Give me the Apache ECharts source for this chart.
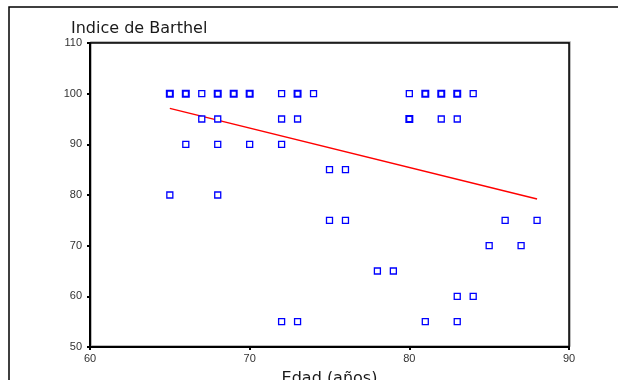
<!DOCTYPE html>
<html>
<head>
<meta charset="utf-8">
<script src="https://cdn.jsdelivr.net/npm/echarts@6/dist/echarts.min.js"></script>
<style>html,body{margin:0;padding:0;background:#fff}#c{width:618px;height:380px}</style>
</head>
<body>
<div id="c"></div>
<script>
// Edad (años) and Indice de Barthel for each plotted point; count = number of overlapping cases (bolder marker)
var ages   = [65,66,67,68,69,70,72,73,74,80,81,82,83,84, 67,68,72,73,80,82,83, 66,68,70,72, 75,76, 65,68, 75,76,86,88, 85,87, 78,79, 83,84, 72,73,81,83];
var scores = [100,100,100,100,100,100,100,100,100,100,100,100,100,100, 95,95,95,95,95,95,95, 90,90,90,90, 85,85, 80,80, 75,75,75,75, 70,70, 65,65, 60,60, 55,55,55,55];
var counts = [2,2,1,2,2,2,1,2,1,1,2,2,2,1, 1,1,1,1,2,1,1, 1,1,1,1, 1,1, 1,1, 1,1,1,1, 1,1, 1,1, 1,1, 1,1,1,1];
// Fitted regression line endpoints
var fitAges   = [65, 88];
var fitScores = [97.1, 79.2];
var xTicks = [60, 70, 80, 90];
var yTicks = [50, 60, 70, 80, 90, 100, 110];

var pts = ages.map(function(a, i){
  return {value:[a, scores[i]], itemStyle:{borderWidth: counts[i] > 1 ? 2 : 1.3}};
});
var fit = fitAges.map(function(a, i){ return [a, fitScores[i]]; });

var chart = echarts.init(document.getElementById('c'), null, {renderer:'canvas'});
chart.setOption({
  animation:false,
  backgroundColor:'#fff',
  title:{text:'Indice de Barthel', left:66, top:16,
    textStyle:{fontFamily:'DejaVu Sans', fontSize:16, fontWeight:'normal', color:'#1a1a1a'}},
  graphic:[{type:'rect', shape:{x:9, y:7, width:700, height:500},
    style:{fill:'none', stroke:'#000', lineWidth:1.5}, z:-1}],
  grid:{left:90, right:49, top:43, bottom:33, containLabel:false, outerBoundsMode:'none',
    show:true, borderColor:'#000', borderWidth:1.5,
    shadowColor:'rgba(0,0,0,0.35)', shadowBlur:0, shadowOffsetX:1, shadowOffsetY:-1, backgroundColor:'#fff'},
  xAxis:{type:'value', min:xTicks[0], max:xTicks[xTicks.length-1], interval:10,
    name:'Edad (años)', nameLocation:'middle', nameGap:24,
    nameTextStyle:{fontFamily:'DejaVu Sans', fontSize:16, color:'#1a1a1a'},
    axisLine:{show:true, lineStyle:{color:'#000', width:2}},
    axisTick:{show:true, length:3, lineStyle:{color:'#000', width:2}},
    axisLabel:{fontFamily:'Liberation Sans', fontSize:11, color:'#333', margin:6},
    splitLine:{show:false}},
  yAxis:{type:'value', min:yTicks[0], max:yTicks[yTicks.length-1], interval:10,
    axisLine:{show:true, lineStyle:{color:'#000', width:2}},
    axisTick:{show:true, length:3, lineStyle:{color:'#000', width:2}},
    axisLabel:{fontFamily:'Liberation Sans', fontSize:11, color:'#333', margin:8},
    splitLine:{show:false}},
  series:[
    {type:'line', data:fit, symbol:'none', lineStyle:{color:'#f00', width:1.5}, z:2},
    {type:'scatter', data:pts, symbol:'rect', symbolSize:6,
      itemStyle:{color:'#fff', borderColor:'#0000ff', opacity:1}, z:3}
  ]
});
</script>
</body>
</html>
